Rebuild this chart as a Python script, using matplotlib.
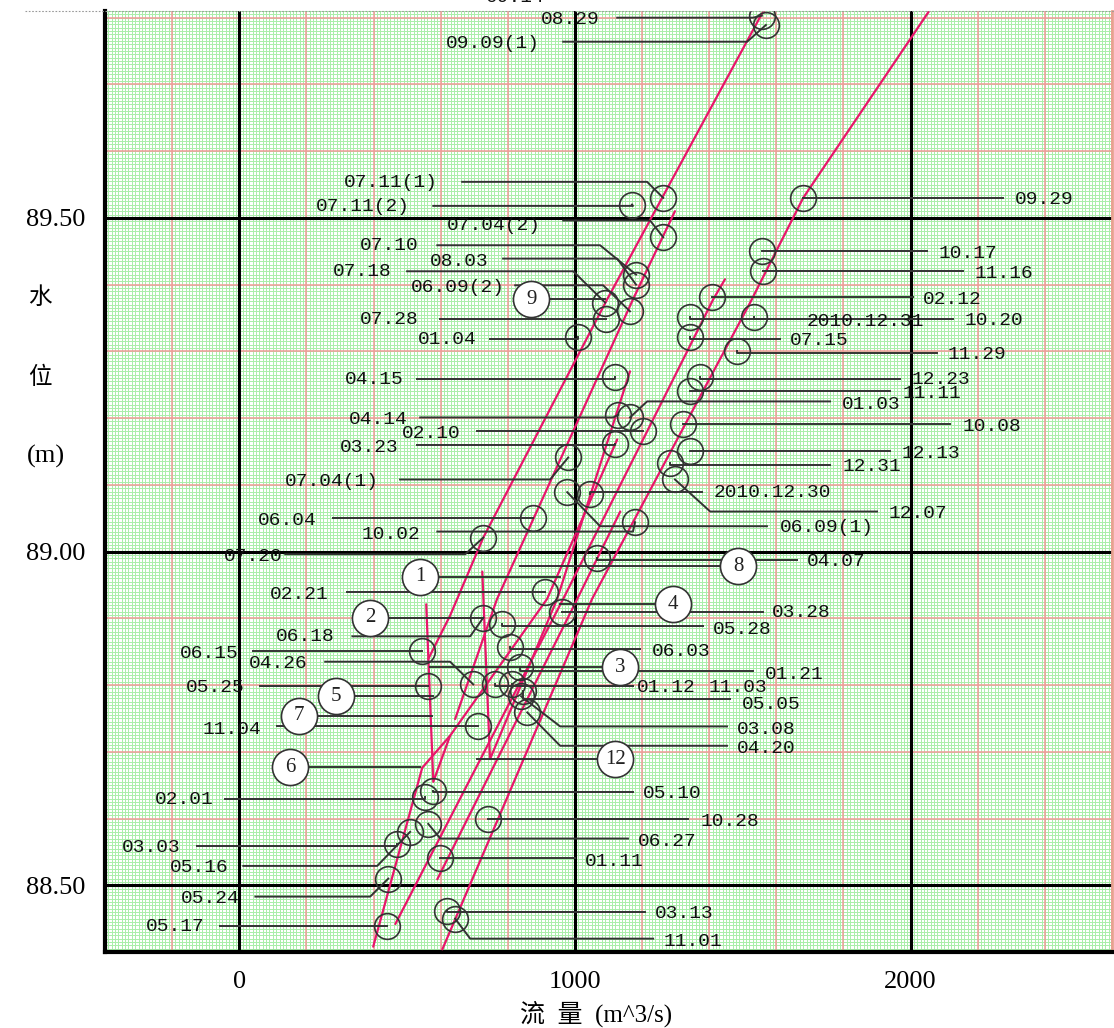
import matplotlib
matplotlib.use("Agg")
import matplotlib.pyplot as plt
import numpy as np

plt.rcParams['font.family'] = ['Liberation Serif', 'Noto Sans CJK SC']

# gaugings: date, discharge Q (m^3/s), stage H (m)
dates = ["08.29", "09.09(1)", "07.11(1)", "07.11(2)", "07.04(2)", "07.10", "08.03", "07.18",
         "06.09(2)", "07.28", "01.04", "04.15", "04.14", "02.10", "03.23", "07.04(1)",
         "06.04", "10.02", "07.20", "02.21", "06.18", "06.15", "04.26", "05.25", "11.04",
         "02.01", "03.03", "05.16", "05.24", "05.17",
         "09.29", "10.17", "11.16", "02.12", "10.20", "2010.12.31", "07.15", "11.29",
         "12.23", "11.11", "01.03", "10.08", "12.13", "12.31", "2010.12.30", "12.07",
         "06.09(1)", "04.07", "03.28", "05.28", "06.03", "01.21", "01.12", "11.03",
         "05.05", "03.08", "04.20", "05.10", "10.28", "06.27", "01.11", "03.13", "11.01"]
q = [1557, 1569, 1263, 1170, 1263, 1182, 1182, 1090, 1164, 1093, 1010, 1120, 1129, 1203,
     1120, 980, 876, 1179, 727, 911, 727, 545, 697, 563, 712, 554, 471, 509, 444, 441,
     1680, 1557, 1560, 1409, 1534, 1343, 1343, 1483, 1373, 1343, 1164, 1322, 1343, 1284,
     1045, 1298, 977, 1066, 962, 783, 807, 837, 762, 813, 846, 840, 858, 578, 742, 563,
     599, 619, 643]
h = [89.803, 89.789, 89.530, 89.520, 89.471, 89.415, 89.400, 89.373, 89.360, 89.348,
     89.321, 89.261, 89.205, 89.180, 89.161, 89.141, 89.051, 89.044, 89.021, 88.940,
     88.901, 88.851, 88.801, 88.799, 88.738, 88.632, 88.562, 88.580, 88.510, 88.439,
     89.530, 89.450, 89.420, 89.382, 89.351, 89.351, 89.321, 89.300, 89.261, 89.240,
     89.201, 89.191, 89.150, 89.133, 89.086, 89.108, 89.089, 88.991, 88.910, 88.891,
     88.857, 88.827, 88.801, 88.801, 88.791, 88.783, 88.759, 88.641, 88.599, 88.592,
     88.541, 88.462, 88.450]

# label placement (text anchor, side) and leader line (end, knee, height)
lab_x = [1075, 896, 593, 509, 899, 533, 742, 453, 792, 533, 706, 491, 503, 658, 476, 417,
         229, 539, 128, 265, 283, -3, 205, 15, 66, -77, -176, -33, 0, -104,
         2311, 2082, 2192, 2037, 2162, 1691, 1641, 2111, 2004, 1977, 1796, 2156, 1974, 1796,
         1412, 1933, 1611, 1691, 1587, 1412, 1230, 1566, 1185, 1397, 1498, 1483, 1483, 1203,
         1373, 1188, 1030, 1239, 1263]
lab_y = [89.797, 89.762, 89.553, 89.517, 89.488, 89.459, 89.434, 89.420, 89.396, 89.348,
         89.318, 89.258, 89.198, 89.177, 89.156, 89.105, 89.047, 89.026, 88.993, 88.936,
         88.872, 88.848, 88.832, 88.797, 88.734, 88.629, 88.556, 88.527, 88.480, 88.438,
         89.527, 89.447, 89.417, 89.378, 89.346, 89.345, 89.316, 89.295, 89.258, 89.237,
         89.221, 89.188, 89.147, 89.127, 89.089, 89.057, 89.036, 88.985, 88.909, 88.883,
         88.851, 88.816, 88.797, 88.797, 88.771, 88.734, 88.705, 88.637, 88.596, 88.565,
         88.536, 88.457, 88.415]
lab_side = ["r"] * 30 + ["l"] * 33
lead_end = [1126, 965, 664, 578, 965, 590, 786, 500, 822, 599, 747, 530, 539, 709, 530, 479,
            280, 590, 137, 322, 337, 42, 256, 63, 113, -42, -125, 12, 48, -57,
            2275, 2049, 2156, 2007, 2126, 1671, 1611, 2079, 1968, 1939, 1760, 2117, 1939, 1760,
            1379, 1900, 1572, 1662, 1560, 1382, 1194, 1531, 1173, 1173, 1462, 1453, 1453, 1173,
            1337, 1158, 1001, 1209, 1233]
lead_knee = [1530, 1513, 1215, 1173, 1224, 1075, 1126, 995, 1084, 1093, 1010, 1120, 1114, 1203,
             1120, 926, 876, 1173, 673, 911, 688, 545, 628, 563, 712, 554, 471, 411, 390, 441,
             1680, 1557, 1560, 1409, 1534, 1343, 1343, 1483, 1373, 1343, 1215, 1322, 1343, 1284,
             1045, 1403, 1075, 1066, 962, 783, 807, 837, 762, 813, 846, 956, 956, 578,
             742, 599, 599, 619, 688]
lead_y = [89.800, 89.764, 89.554, 89.518, 89.496, 89.459, 89.439, 89.420, 89.399, 89.349,
          89.319, 89.259, 89.201, 89.180, 89.159, 89.108, 89.050, 89.030, 88.996, 88.939,
          88.873, 88.851, 88.835, 88.798, 88.738, 88.629, 88.559, 88.529, 88.483, 88.439,
          89.530, 89.450, 89.420, 89.381, 89.349, 89.349, 89.319, 89.298, 89.259, 89.241,
          89.225, 89.191, 89.150, 89.130, 89.090, 89.060, 89.038, 88.988, 88.910, 88.888,
          88.854, 88.821, 88.798, 88.798, 88.779, 88.738, 88.709, 88.640, 88.599, 88.570,
          88.541, 88.460, 88.420]

# rating curves (Q, H)
curves = [
    ([563, 628, 727, 1096, 1557, 1565], [88.839, 88.904, 89.021, 89.378, 89.806, 89.812]),
    ([643, 768, 1173, 1298], [88.749, 88.929, 89.378, 89.510]),
    ([605, 1051, 1522, 1680, 2058], [88.404, 88.929, 89.373, 89.530, 89.812]),
    ([399, 545, 628, 917, 1126], [88.408, 88.676, 88.724, 88.929, 89.168]),
    ([465, 965, 1412, 1447], [88.442, 88.929, 89.378, 89.408]),
    ([590, 1007, 1135], [88.509, 88.929, 89.060]),
    ([557, 578, 628], [88.921, 88.655, 88.724]),
    ([724, 747, 947, 1164], [88.970, 88.689, 88.929, 89.270]),
]

# curve numbers: id, Q, H, leader end
curve_id = ["1", "2", "3", "4", "5", "6", "7", "8", "9", "12"]
curve_q = [539, 390, 1135, 1292, 289, 152, 179, 1486, 870, 1120]
curve_h = [88.962, 88.901, 88.827, 88.921, 88.783, 88.677, 88.754, 88.978, 89.378, 88.689]
curve_lead = [956, 727, 569, 956, 578, 539, 575, 837, 1090, 709]

fig = plt.figure(figsize=(11.14, 10.28), dpi=100)
ax = fig.add_axes([105 / 1114, 1 - 952 / 1028, 1007 / 1114, 941 / 1028])
ax.set_xlim(-400, 2600)
ax.set_ylim(88.40, 89.81)

# graph paper
for x in np.arange(-400, 2601, 10):
    ax.axvline(x, color='#a9eea9', lw=0.7, zorder=0)
for y in np.arange(88.40, 89.815, 0.005):
    ax.axhline(y, color='#a9eea9', lw=0.7, zorder=0)
for x in np.arange(-400, 2601, 200):
    ax.axvline(x, color='#f29a9a', lw=1.1, zorder=1)
for y in np.arange(88.40, 89.81, 0.1):
    ax.axhline(y, color='#f29a9a', lw=1.1, zorder=1)
for x in [0, 1000, 2000]:
    ax.axvline(x, color='black', lw=2.2, zorder=2)
for y in [88.5, 89.0, 89.5]:
    ax.axhline(y, color='black', lw=2.2, zorder=2)

ax.spines['top'].set_visible(False)
ax.spines['left'].set_linewidth(3)
ax.spines['bottom'].set_linewidth(3)
ax.spines['right'].set_color('#e8a090')
ax.spines['right'].set_linewidth(2)

for cq, ch in curves:
    ax.plot(cq, ch, color='#e8166a', lw=1.6, zorder=4, solid_capstyle='round')

for i in range(len(dates)):
    ax.plot([lead_end[i], lead_knee[i], q[i]], [lead_y[i], lead_y[i], h[i]],
            color='#333333', lw=1.4, zorder=5)
    ax.text(lab_x[i], lab_y[i], dates[i], ha='right' if lab_side[i] == 'r' else 'left',
            va='center', family='Liberation Mono', fontsize=14, color='#111111', zorder=7)
ax.plot(q, h, 'o', ms=18.5, mfc='none', mec='#333333', mew=1.2, zorder=6)

ax.text(911, 89.83, "09.14", ha='right', va='center', family='Liberation Mono',
        fontsize=14, color='#111111', clip_on=False)

for i in range(len(curve_id)):
    ax.plot([curve_lead[i], curve_q[i]], [curve_h[i], curve_h[i]], color='#333333', lw=1.4, zorder=5)
    ax.plot(curve_q[i], curve_h[i], 'o', ms=26, mfc='white', mec='#333333', mew=1.2, zorder=8)
    ax.text(curve_q[i], curve_h[i], curve_id[i], ha='center', va='center',
            fontsize=15, color='#222222', zorder=9)

ax.set_xticks([0, 1000, 2000])
ax.set_xticklabels(["0", "1000", "2000"], fontsize=19)
ax.set_yticks([88.5, 89.0, 89.5])
ax.set_yticklabels(["88.50", "89.00", "89.50"], fontsize=19)
ax.tick_params(length=0, pad=14)

fig.text(40 / 1114, 1 - 298 / 1028, "水", ha='center', va='center', fontsize=17)
fig.text(40 / 1114, 1 - 378 / 1028, "位", ha='center', va='center', fontsize=17)
fig.text(46 / 1114, 1 - 456 / 1028, "(m)", ha='center', va='center', fontsize=19)
fig.text(520 / 1114, 1 - 1014 / 1028, "流  量  (m^3/s)", ha='left', va='center', fontsize=18)

fig.add_artist(plt.Line2D([25 / 1114, 1], [1 - 11 / 1028, 1 - 11 / 1028],
                          color='#999999', lw=0.8, ls=(0, (1.5, 1.5))))

fig.savefig("out.png", dpi=100)
